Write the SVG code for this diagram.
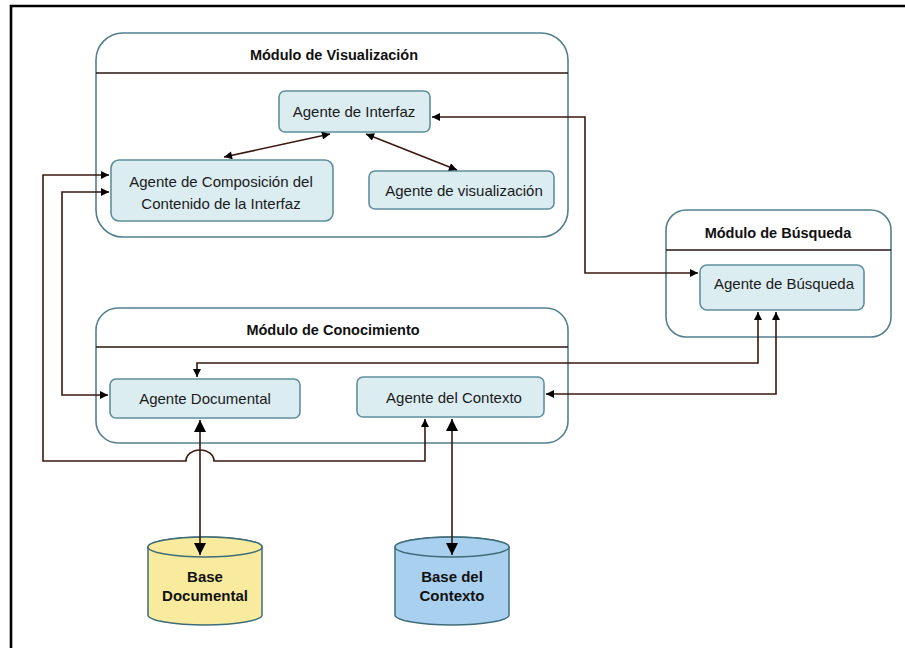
<svg xmlns="http://www.w3.org/2000/svg" width="905" height="648" viewBox="0 0 905 648">
<style>
.frame{stroke:#000;stroke-width:2.6;fill:none}
.mod{fill:#fff;stroke:#52808d;stroke-width:1.6}
.div{stroke:#2a1612;stroke-width:1.5}
.box{fill:#dcedf1;stroke:#5f8f9c;stroke-width:1.6}
.mt{font-family:'Liberation Sans',Arial,sans-serif;font-weight:bold;font-size:14.5px;fill:#111;text-anchor:middle}
.bt{font-family:'Liberation Sans',Arial,sans-serif;font-size:15px;fill:#1a1a1a;text-anchor:middle}
.dt{font-family:'Liberation Sans',Arial,sans-serif;font-weight:bold;font-size:15px;fill:#111;text-anchor:middle}
.ln{fill:none;stroke:#3a1810;stroke-width:1.6}
.cyl{stroke:#3f6c79;stroke-width:1.5}
</style>
<defs>
<marker id="a" viewBox="0 0 10 10" refX="10" refY="5" markerWidth="9" markerHeight="8" markerUnits="userSpaceOnUse" orient="auto-start-reverse"><path d="M0 0 L10 5 L0 10 Z" fill="#000"/></marker>
<marker id="b" viewBox="0 0 10 10" refX="10" refY="5" markerWidth="12" markerHeight="12" markerUnits="userSpaceOnUse" orient="auto-start-reverse"><path d="M0 0 L10 5 L0 10 Z" fill="#000"/></marker>
</defs>
<rect width="905" height="648" fill="#fff"/>
<path class="frame" d="M11 648 V6 H905"/>

<g id="mod-visualizacion">
<rect class="mod" x="96" y="33" width="472" height="204" rx="27" ry="27"/>
<line class="div" x1="96" y1="73" x2="568" y2="73"/>
<text class="mt" x="334" y="60">Módulo de Visualización</text>
</g>
<g id="mod-busqueda">
<rect class="mod" x="666" y="210" width="225" height="127" rx="20" ry="20"/>
<line class="div" x1="666" y1="250" x2="891" y2="250"/>
<text class="mt" x="778" y="238">Módulo de Búsqueda</text>
</g>
<g id="mod-conocimiento">
<rect class="mod" x="96" y="308" width="472" height="135" rx="22" ry="22"/>
<line class="div" x1="96" y1="347" x2="568" y2="347"/>
<text class="mt" x="333" y="335">Módulo de Conocimiento</text>
</g>

<g id="ag-interfaz">
<rect class="box" x="279" y="91" width="151" height="41" rx="6"/>
<text class="bt" x="354" y="117">Agente de Interfaz</text>
</g>
<g id="ag-composicion">
<rect class="box" x="111" y="160" width="222" height="61" rx="8"/>
<text class="bt" x="221" y="187">Agente de Composición del</text>
<text class="bt" x="221" y="209">Contenido de la Interfaz</text>
</g>
<g id="ag-visualizacion">
<rect class="box" x="369" y="171" width="185" height="38" rx="6"/>
<text class="bt" x="464" y="196">Agente de visualización</text>
</g>
<g id="ag-busqueda">
<rect class="box" x="700" y="265" width="164" height="45" rx="7"/>
<text class="bt" x="784" y="289">Agente de Búsqueda</text>
</g>
<g id="ag-documental">
<rect class="box" x="110" y="379" width="190" height="39" rx="6"/>
<text class="bt" x="205" y="404">Agente Documental</text>
</g>
<g id="ag-contexto">
<rect class="box" x="357" y="377" width="187" height="40" rx="6"/>
<text class="bt" x="454" y="403">Agente del Contexto</text>
</g>

<g id="db-documental">
<path class="cyl" fill="#f8eb9e" d="M148 547 V615 A57 10 0 0 0 262 615 V547 A57 10 0 0 0 148 547 Z"/>
<ellipse class="cyl" fill="#f8eb9e" cx="205" cy="547" rx="57" ry="10"/>
<text class="dt" x="205" y="582">Base</text>
<text class="dt" x="205" y="601">Documental</text>
</g>
<g id="db-contexto">
<path class="cyl" fill="#a9d0ee" d="M395 547 V615 A57 10 0 0 0 509 615 V547 A57 10 0 0 0 395 547 Z"/>
<ellipse class="cyl" fill="#a9d0ee" cx="452" cy="547" rx="57" ry="10"/>
<text class="dt" x="452" y="582">Base del</text>
<text class="dt" x="452" y="601">Contexto</text>
</g>

<g id="connectors">
<path class="ln" d="M330 134 L224 157" marker-start="url(#a)" marker-end="url(#a)"/>
<path class="ln" d="M366 134 L457 170" marker-start="url(#a)" marker-end="url(#a)"/>
<path class="ln" d="M432 117 H585 V273 H698" marker-start="url(#a)" marker-end="url(#a)"/>
<path class="ln" d="M109 175 H43 V461 H186 A14 11 0 0 1 214 461 H425 V419" marker-start="url(#a)" marker-end="url(#a)"/>
<path class="ln" d="M109 192 H62 V395 H108" marker-start="url(#a)" marker-end="url(#a)"/>
<path class="ln" d="M758 312 V363 H197 V377" marker-start="url(#a)" marker-end="url(#a)"/>
<path class="ln" d="M776 312 V394 H546" marker-start="url(#a)" marker-end="url(#a)"/>
<path class="ln" d="M200 420 V555" marker-start="url(#b)" marker-end="url(#b)"/>
<path class="ln" d="M452 419 V555" marker-start="url(#b)" marker-end="url(#b)"/>
</g>
</svg>
